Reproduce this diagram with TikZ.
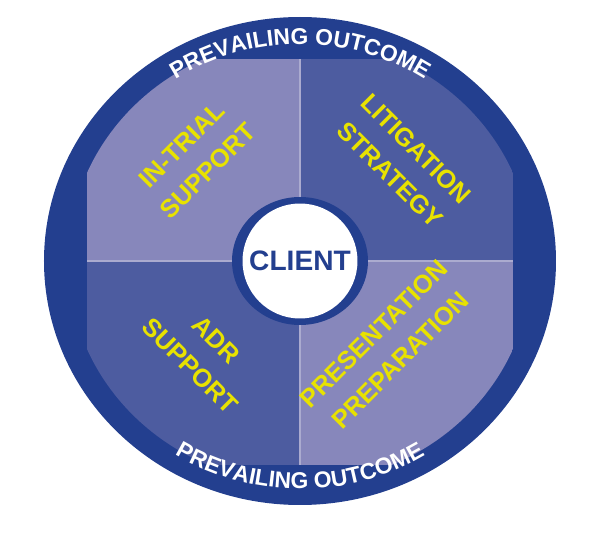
\documentclass[tikz,border=0pt]{standalone}
\usepackage{fontspec}
\setmainfont{Liberation Sans}
\usetikzlibrary{decorations.text}

\definecolor{ringblue}{RGB}{35,63,143}
\definecolor{lightq}{RGB}{135,135,187}
\definecolor{darkq}{RGB}{77,92,160}
\definecolor{quadyellow}{RGB}{232,226,0}

\tikzset{
  quadtext/.style={text=quadyellow, font=\fontsize{14.5}{21}\selectfont\bfseries, align=center},
  ringtext/.style={decorate, decoration={text along path, text align=center,
      text={|\fontsize{13}{13}\selectfont\bfseries\color{white}|PREVAILING OUTCOME}}}
}

\begin{document}
\begin{tikzpicture}[x=0.02cm, y=0.02cm]
        \useasboundingbox (-300,-287) rectangle (300,261);

        % Outer ring
        \fill[ringblue] (0,0) ellipse [x radius=256, y radius=244];

        % Quadrants
        \begin{scope}
          \clip (0,0) ellipse [x radius=232, y radius=222];
          \fill[lightq] (-213,0) rectangle (0,202);
          \fill[darkq] (0,0) rectangle (213,202);
          \fill[darkq] (-213,-204) rectangle (0,0);
          \fill[lightq] (0,-204) rectangle (213,0);
          \draw[lightq!70!white, line width=0.6pt] (0,-204) -- (0,202);
          \draw[lightq!70!white, line width=0.6pt] (-213,0) -- (213,0);
        \end{scope}

        % Centre
        \fill[ringblue] (0,0) ellipse [x radius=68, y radius=64];
        \node[circle, fill=white, minimum size=2.3cm, inner sep=0pt, text=ringblue,
              font=\fontsize{16}{16}\selectfont\bfseries] (client) at (0,0) {CLIENT};

        % Quadrant labels
        \node[quadtext, rotate=45] (intrial) at (-105,103) {IN-TRIAL\\SUPPORT};
        \node[quadtext, rotate=-45] (litigation) at (103,99) {LITIGATION\\STRATEGY};
        \node[quadtext, rotate=-45] (adr) at (-97,-92) {ADR\\SUPPORT};
        \node[quadtext, rotate=45] (presentation) at (87,-86) {PRESENTATION\\PREPARATION};

        % Ring labels
        \path[ringtext] (125:227 and 217) arc[start angle=125, end angle=55, x radius=227, y radius=217];
        \path[ringtext] (235:238 and 228) arc[start angle=235, end angle=305, x radius=238, y radius=228];
    \end{tikzpicture}
\end{document}
